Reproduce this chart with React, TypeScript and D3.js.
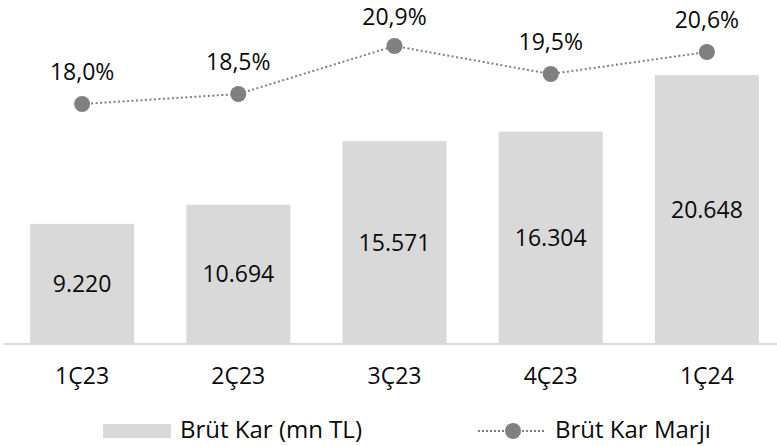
import React from "react";
import * as d3 from "d3";

const categories = ["1Ç23", "2Ç23", "3Ç23", "4Ç23", "1Ç24"];
const grossProfit = [9220, 10694, 15571, 16304, 20648];
const grossProfitLabels = ["9.220", "10.694", "15.571", "16.304", "20.648"];
const margin = [18.0, 18.5, 20.9, 19.5, 20.6];
const marginLabels = ["18,0%", "18,5%", "20,9%", "19,5%", "20,6%"];
const legendBar = "Brüt Kar (mn TL)";
const legendLine = "Brüt Kar Marjı";

const W = 777;
const H = 446;
const FONT = "'Open Sans', sans-serif";
const TEXT = "#0a0a0a";
const BAR = "#d9d9d9";
const LINE = "#808080";

export default function App() {
  const x = d3
    .scaleBand<string>()
    .domain(categories)
    .range([4, 785])
    .paddingInner(0.334)
    .paddingOuter(0.167);
  const yBar = d3.scaleLinear().domain([0, 20648]).range([344, 75]);
  const yLine = d3.scaleLinear().domain([18, 20.9]).range([104, 46]);
  const bw = x.bandwidth();
  const cx = (c: string) => (x(c) as number) + bw / 2;

  const lineGen = d3
    .line<number>()
    .x((_, i) => cx(categories[i]))
    .y((d) => yLine(d));

  return (
    <svg
      width={W}
      height={H}
      style={{ position: "absolute", left: 0, top: 0, background: "#fff" }}
      fontFamily={FONT}
    >
      {categories.map((c, i) => (
        <g key={c}>
          <rect
            x={x(c)}
            y={yBar(grossProfit[i])}
            width={bw}
            height={yBar(0) - yBar(grossProfit[i])}
            fill={BAR}
          />
          <text
            x={cx(c)}
            y={(yBar(grossProfit[i]) + yBar(0)) / 2 + 2}
            textAnchor="middle"
            dominantBaseline="middle"
            fontSize={23}
            fill={TEXT}
          >
            {grossProfitLabels[i]}
          </text>
          <text
            x={cx(c)}
            y={384}
            textAnchor="middle"
            fontSize={23}
            fill={TEXT}
          >
            {c}
          </text>
        </g>
      ))}
      <line x1={4} x2={W} y1={344} y2={344} stroke={BAR} strokeWidth={2} />
      <path
        d={lineGen(margin) || ""}
        fill="none"
        stroke={LINE}
        strokeWidth={2}
        strokeDasharray="2 2.5"
      />
      {margin.map((m, i) => (
        <g key={i}>
          <circle cx={cx(categories[i])} cy={yLine(m)} r={8} fill={LINE} />
          <text
            x={cx(categories[i])}
            y={Math.max(yLine(m) - 24, 25)}
            textAnchor="middle"
            fontSize={23}
            fill={TEXT}
          >
            {marginLabels[i]}
          </text>
        </g>
      ))}
      <rect x={103} y={424} width={68} height={14} fill={BAR} />
      <text x={180} y={438} fontSize={24} fill={TEXT}>
        {legendBar}
      </text>
      <line
        x1={478}
        x2={545}
        y1={431}
        y2={431}
        stroke={LINE}
        strokeWidth={2}
        strokeDasharray="2 2"
      />
      <circle cx={513} cy={431} r={8} fill={LINE} />
      <text x={555} y={438} fontSize={24} fill={TEXT}>
        {legendLine}
      </text>
    </svg>
  );
}
